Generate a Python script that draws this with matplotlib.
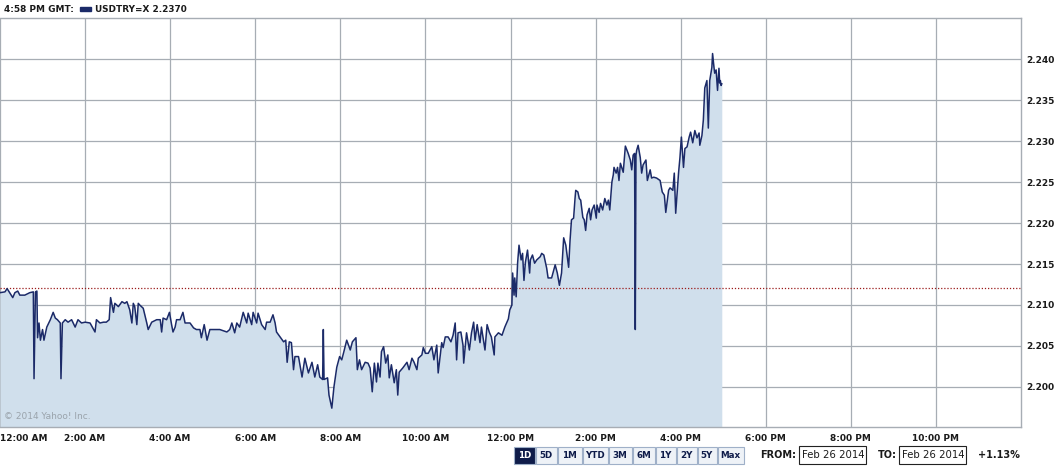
import matplotlib
matplotlib.use("Agg")
import matplotlib.pyplot as plt
from matplotlib.patches import Rectangle

# USDTRY=X intraday, Feb 26 2014 (minutes after 00:00 GMT, price)
minutes = [
    0, 7, 10, 18, 21, 25, 28, 35, 42, 47, 48, 50, 52, 53, 55, 57, 60, 62, 66, 71,
    75, 78, 81, 85, 86, 88, 92, 96, 101, 106, 110, 115, 120, 127, 134, 136, 141, 146, 150, 154,
    156, 160, 162, 167, 172, 176, 179, 183, 186, 188, 190, 193, 195, 197, 202, 207, 209, 214, 221, 226,
    228, 230, 235, 239, 242, 244, 247, 249, 254, 258, 261, 268, 273, 277, 282, 284, 288, 292, 296, 301,
    310, 320, 324, 327, 331, 334, 338, 343, 348, 350, 355, 357, 362, 364, 369, 374, 376, 381, 385, 388,
    390, 395, 400, 403, 405, 408, 411, 414, 416, 421, 426, 430, 435, 440, 444, 448, 451, 455, 456, 457,
    462, 464, 468, 471, 475, 479, 482, 485, 489, 494, 497, 502, 504, 507, 510, 515, 519, 522, 525, 528,
    531, 533, 536, 538, 541, 544, 547, 549, 552, 556, 559, 561, 563, 568, 574, 577, 581, 584, 588, 590,
    595, 597, 600, 604, 609, 612, 616, 618, 623, 625, 628, 632, 636, 639, 642, 644, 646, 650, 653, 654,
    658, 662, 665, 668, 670, 673, 677, 679, 684, 687, 690, 693, 697, 698, 703, 708, 712, 717, 719, 722,
    723, 725, 726, 728, 730, 732, 735, 737, 739, 741, 744, 747, 748, 751, 754, 757, 762, 764, 767, 771,
    773, 778, 783, 786, 789, 792, 795, 798, 802, 804, 806, 809, 811, 812, 815, 817, 819, 822, 824, 826,
    828, 831, 833, 835, 838, 841, 842, 845, 847, 850, 853, 856, 858, 860, 863, 865, 866, 869, 871, 873,
    875, 879, 882, 886, 889, 891, 893, 895, 896, 897, 898, 900, 903, 905, 907, 911, 913, 917, 919, 922,
    926, 931, 934, 937, 939, 943, 945, 949, 951, 953, 957, 959, 961, 964, 966, 969, 972, 974, 977, 980,
    983, 986, 987, 990, 992, 994, 997, 999, 1001, 1004, 1005, 1007, 1008, 1010, 1012, 1014, 1015, 1016, 1017, 1018,
]
prices = [
    2.2115, 2.2116, 2.2120, 2.2109, 2.2115, 2.2117, 2.2112, 2.2112, 2.2115, 2.2116,
    2.2010, 2.2116, 2.2117, 2.2060, 2.2078, 2.2057, 2.2070, 2.2057, 2.2073, 2.2082,
    2.2091, 2.2084, 2.2082, 2.2078, 2.2010, 2.2078, 2.2082, 2.2079, 2.2082, 2.2073,
    2.2082, 2.2078, 2.2079, 2.2078, 2.2067, 2.2082, 2.2078, 2.2079, 2.2079, 2.2082,
    2.2109, 2.2091, 2.2102, 2.2098, 2.2104, 2.2102, 2.2104, 2.2094, 2.2078, 2.2102,
    2.2098, 2.2076, 2.2102, 2.2100, 2.2096, 2.2078, 2.2070, 2.2079, 2.2082, 2.2082,
    2.2067, 2.2084, 2.2082, 2.2091, 2.2076, 2.2067, 2.2073, 2.2082, 2.2082, 2.2091,
    2.2078, 2.2078, 2.2072, 2.2070, 2.2070, 2.2060, 2.2076, 2.2057, 2.2070, 2.2070,
    2.2070, 2.2067, 2.2070, 2.2078, 2.2066, 2.2078, 2.2073, 2.2091, 2.2078, 2.2090,
    2.2076, 2.2091, 2.2078, 2.2090, 2.2076, 2.2070, 2.2079, 2.2079, 2.2088, 2.2078,
    2.2067, 2.2061, 2.2055, 2.2057, 2.2030, 2.2055, 2.2054, 2.2021, 2.2037, 2.2037,
    2.2012, 2.2035, 2.2017, 2.2030, 2.2012, 2.2027, 2.2012, 2.2009, 2.2070, 2.2009,
    2.2011, 2.1990, 2.1974, 2.2000, 2.2024, 2.2037, 2.2033, 2.2043, 2.2057, 2.2045,
    2.2055, 2.2060, 2.2021, 2.2033, 2.2021, 2.2030, 2.2029, 2.2023, 2.1994, 2.2029,
    2.2006, 2.2029, 2.2012, 2.2043, 2.2049, 2.2029, 2.2039, 2.2011, 2.2027, 2.2005,
    2.2021, 2.1990, 2.2018, 2.2023, 2.2030, 2.2021, 2.2035, 2.2030, 2.2021, 2.2035,
    2.2039, 2.2048, 2.2041, 2.2041, 2.2049, 2.2033, 2.2051, 2.2017, 2.2054, 2.2048,
    2.2061, 2.2061, 2.2055, 2.2063, 2.2078, 2.2033, 2.2066, 2.2067, 2.2051, 2.2029,
    2.2066, 2.2045, 2.2066, 2.2079, 2.2057, 2.2076, 2.2054, 2.2073, 2.2045, 2.2076,
    2.2067, 2.2061, 2.2039, 2.2061, 2.2066, 2.2063, 2.2073, 2.2083, 2.2094, 2.2100,
    2.2139, 2.2112, 2.2133, 2.2110, 2.2151, 2.2173, 2.2155, 2.2163, 2.2130, 2.2152,
    2.2167, 2.2139, 2.2155, 2.2161, 2.2151, 2.2155, 2.2159, 2.2163, 2.2161, 2.2145,
    2.2133, 2.2133, 2.2149, 2.2139, 2.2124, 2.2139, 2.2182, 2.2173, 2.2146, 2.2179,
    2.2204, 2.2206, 2.2230, 2.2240, 2.2238, 2.2230, 2.2228, 2.2207, 2.2204, 2.2191,
    2.2210, 2.2218, 2.2204, 2.2216, 2.2222, 2.2206, 2.2222, 2.2213, 2.2224, 2.2216,
    2.2230, 2.2222, 2.2228, 2.2216, 2.2250, 2.2259, 2.2268, 2.2261, 2.2268, 2.2252,
    2.2273, 2.2262, 2.2294, 2.2285, 2.2277, 2.2265, 2.2283, 2.2285, 2.2070, 2.2283,
    2.2289, 2.2295, 2.2280, 2.2261, 2.2271, 2.2277, 2.2252, 2.2265, 2.2255, 2.2256,
    2.2255, 2.2252, 2.2238, 2.2234, 2.2213, 2.2240, 2.2243, 2.2240, 2.2261, 2.2212,
    2.2261, 2.2280, 2.2305, 2.2268, 2.2291, 2.2293, 2.2305, 2.2311, 2.2298, 2.2313,
    2.2304, 2.2310, 2.2295, 2.2307, 2.2326, 2.2365, 2.2374, 2.2316, 2.2374, 2.2390,
    2.2407, 2.2390, 2.2383, 2.2387, 2.2362, 2.2389, 2.2371, 2.2374, 2.2368, 2.2370,
]
prev_close = 2.2121

xtick_pos = [0, 120, 240, 360, 480, 600, 720, 840, 960, 1080, 1200, 1320]
xtick_labels = ["12:00 AM", "2:00 AM", "4:00 AM", "6:00 AM", "8:00 AM", "10:00 AM",
                "12:00 PM", "2:00 PM", "4:00 PM", "6:00 PM", "8:00 PM", "10:00 PM"]
ytick_pos = [2.200, 2.205, 2.210, 2.215, 2.220, 2.225, 2.230, 2.235, 2.240]
range_buttons = ["1D", "5D", "1M", "YTD", "3M", "6M", "1Y", "2Y", "5Y", "Max"]

LINE = "#1b2a68"
FILL = "#d0dfec"
GRID = "#a7adb4"
TEXT = "#1a1a1a"

W, H = 1063, 468
fig = plt.figure(figsize=(W / 100, H / 100), dpi=100)
ax = fig.add_axes([0, 1 - 427 / H, 1021 / W, (427 - 17.5) / H])

ax.fill_between(minutes, prices, 2.19, color=FILL, lw=0, zorder=1)
ax.plot(minutes, prices, color=LINE, lw=1.1, zorder=3)
ax.axhline(prev_close, color="#9b1c1c", lw=0.9, ls=(0, (1, 1.5)), zorder=2)

ax.set_xlim(0, 1440)
ax.set_ylim(2.1951, 2.2451)
ax.set_xticks(xtick_pos)
ax.set_xticklabels(xtick_labels)
ax.set_yticks(ytick_pos)
ax.set_yticklabels([f"{v:.3f}" for v in ytick_pos])
ax.yaxis.tick_right()
ax.tick_params(length=0, labelsize=6.5, colors=TEXT)
ax.tick_params(axis="x", pad=5)
ax.tick_params(axis="y", pad=4)
for lab in ax.get_xticklabels() + ax.get_yticklabels():
    lab.set_fontweight("bold")
ax.get_xticklabels()[0].set_horizontalalignment("left")
ax.grid(True, color=GRID, lw=0.9, zorder=0)
ax.set_axisbelow(True)
for side in ["top", "right", "bottom"]:
    ax.spines[side].set_color(GRID)
    ax.spines[side].set_linewidth(1.0)
ax.spines["left"].set_visible(False)

ax.text(0.004, 0.015, "\u00a9 2014 Yahoo! Inc.", transform=ax.transAxes,
        fontsize=6.5, color="#9aa3ab", va="bottom", ha="left")

# header
fig.text(4 / W, 1 - 9 / H, "4:58 PM GMT:", fontsize=6.4, fontweight="bold",
         color=TEXT, va="center", ha="left")
fig.patches.append(Rectangle((80 / W, 1 - 11 / H), 11 / W, 4 / H,
                             transform=fig.transFigure, color=LINE))
fig.text(95 / W, 1 - 9 / H, "USDTRY=X 2.2370", fontsize=6.4, fontweight="bold",
         color=TEXT, va="center", ha="left")

# range buttons
edges = [513.5, 535.5, 557, 582, 608, 632.5, 655, 676, 697, 717, 744]
for i, name in enumerate(range_buttons):
    x0, x1 = edges[i] + 0.5, edges[i + 1] - 0.5
    active = i == 0
    fig.patches.append(Rectangle((x0 / W, 1 - 464 / H), (x1 - x0) / W, 17 / H,
                                 transform=fig.transFigure,
                                 facecolor="#0f1c4a" if active else "#eef2f7",
                                 edgecolor="#9fb0c8", lw=0.8))
    fig.text((x0 + x1) / 2 / W, 1 - 455.5 / H, name, fontsize=6.3, fontweight="bold",
             color="white" if active else "#0f1c4a", ha="center", va="center")

fig.text(796 / W, 1 - 455.5 / H, "FROM:", fontsize=7, fontweight="bold",
         color=TEXT, ha="right", va="center")
fig.text(897 / W, 1 - 455.5 / H, "TO:", fontsize=7, fontweight="bold",
         color=TEXT, ha="right", va="center")
for bx0, bx1 in [(799, 866), (899, 966)]:
    fig.patches.append(Rectangle((bx0 / W, 1 - 464 / H), (bx1 - bx0) / W, 18 / H,
                                 transform=fig.transFigure, facecolor="white",
                                 edgecolor="#222222", lw=0.8))
    fig.text((bx0 + 3) / W, 1 - 455.5 / H, "Feb 26 2014", fontsize=7.3,
             color=TEXT, ha="left", va="center")
fig.text(978 / W, 1 - 455.5 / H, "+1.13%", fontsize=7, fontweight="bold",
         color=TEXT, ha="left", va="center")

fig.savefig("out.png", dpi=100)
